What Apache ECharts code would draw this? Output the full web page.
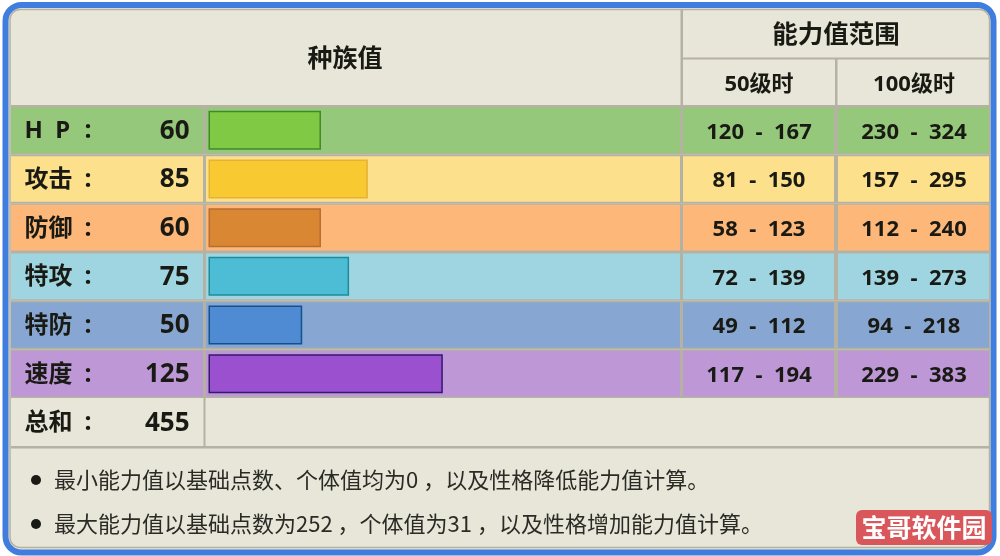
<!DOCTYPE html>
<html>
<head>
<meta charset="utf-8">
<style>
  html, body { margin: 0; padding: 0; background: #fff; }
  #chart { width: 1000px; height: 556px; }
</style>
<script src="https://cdn.jsdelivr.net/npm/echarts@6/dist/echarts.min.js"></script>
</head>
<body>
<div id="chart"></div>
<script>
// 数据
const categories = ["H  P", "攻击", "防御", "特攻", "特防", "速度", "总和"];
const baseStats = [60, 85, 60, 75, 50, 125, null];
const statLabels = ["60", "85", "60", "75", "50", "125", "455"];
const level50 = ["120  -  167", "81  -  150", "58  -  123", "72  -  139", "49  -  112", "117  -  194"];
const level100 = ["230  -  324", "157  -  295", "112  -  240", "139  -  273", "94  -  218", "229  -  383"];
const rowColors = ["#95c87a", "#fde08c", "#fdb778", "#9fd5e1", "#87a7d2", "#bd97d6"];
const barColors = ["#80c945", "#f8c930", "#d98733", "#4dbdd6", "#4e8bd2", "#9b50d0"];
const barBorders = ["#3d8a28", "#e3b236", "#b96c30", "#1f8a9c", "#12508f", "#33196e"];
const notes = [
  "最小能力值以基础点数、个体值均为0 ，以及性格降低能力值计算。",
  "最大能力值以基础点数为252 ，个体值为31 ，以及性格增加能力值计算。"
];

const fontBold = '"Noto Sans", "Noto Sans CJK SC", sans-serif';
const fontCjk = '"Noto Sans CJK SC", sans-serif';
const lineColor = "#b5b2a3";
const cellColor = "#e8e6d9";
const rowTop = 106;
const rowH = 48.67;

function rect(x, y, w, h, fill, z) {
  return { type: "rect", silent: true, z: z || 1, shape: { x, y, width: w, height: h }, style: { fill } };
}

function text(str, x, y, size, opts) {
  opts = opts || {};
  return {
    type: "text", silent: true, z: opts.z || 10, x, y,
    style: {
      text: str,
      fill: opts.fill || "#1a1a14",
      font: (opts.weight || "bold") + " " + size + "px " + (opts.family || fontBold),
      textAlign: opts.align || "center",
      textVerticalAlign: "middle"
    }
  };
}

const graphics = [
  // 外框
  { type: "rect", silent: true, z: 0, shape: { x: 5.5, y: 5, width: 988, height: 547.5, r: 16 },
    style: { fill: cellColor, stroke: "#3f7ede", lineWidth: 6 } },
  { type: "rect", silent: true, z: 0, shape: { x: 10, y: 9.5, width: 979.5, height: 538, r: 10 },
    style: { fill: cellColor, stroke: lineColor, lineWidth: 1.5 } },
  // 表头分隔线
  rect(680.5, 10, 2.5, 96, lineColor),
  rect(681, 57.5, 309, 2, lineColor),
  rect(835, 58, 2.5, 48, lineColor),
  rect(11, 105, 979, 2, lineColor),
  // 总和行
  rect(203.5, 398, 2, 50, lineColor),
  rect(11, 446, 979, 2.5, lineColor),
  text("种族值", 345, 57, 25, { family: fontCjk }),
  text("能力值范围", 836, 33, 25.5, { family: fontCjk }),
  text("50级时", 759, 85, 22),
  text("100级时", 914, 85, 22),
  // 水印
  { type: "rect", silent: true, z: 12, shape: { x: 856, y: 510, width: 136, height: 35, r: 6 }, style: { fill: "#d9575b" } },
  text("宝哥软件园", 924, 527, 25, { fill: "#fff", family: fontCjk, z: 13 })
];

rowColors.forEach((color, i) => {
  const y = rowTop + i * rowH;
  graphics.push(rect(11, y, 979, rowH, lineColor, 1));
  [[11, 192], [206, 474], [683, 151], [838, 151]].forEach(c => {
    graphics.push(rect(c[0], y + 1.5, c[1], rowH - 3, color, 2));
  });
  graphics.push(text(level50[i], 759, y + rowH / 2 + 2, 22));
  graphics.push(text(level100[i], 914, y + rowH / 2 + 2, 22));
});

notes.forEach((note, i) => {
  const y = 480 + i * 44;
  graphics.push({ type: "circle", silent: true, z: 10, shape: { cx: 36, cy: y, r: 5 }, style: { fill: "#1a1a14" } });
  graphics.push(text(note, 54, y, 22, { weight: "normal", family: fontCjk, align: "left", fill: "#2b2b26" }));
});

const option = {
  animation: false,
  backgroundColor: "#fff",
  graphic: { elements: graphics },
  grid: { left: 208.5, top: rowTop, width: 478, height: rowH * categories.length },
  xAxis: { type: "value", min: 0, max: 255, show: false },
  yAxis: {
    type: "category",
    inverse: true,
    data: categories,
    z: 8,
    axisLine: { show: false },
    axisTick: { show: false },
    axisLabel: {
      align: "left",
      margin: 184,
      formatter: (name, i) => "{name|" + name + "}{colon|:}{stat|" + statLabels[i] + "}",
      rich: {
        name: { width: 60, padding: [2, 0, 0, 0], fontSize: 24, fontWeight: "bold", fontFamily: fontBold, color: "#1a1a14" },
        colon: { width: 18, padding: [2, 0, 0, 0], fontSize: 25, fontWeight: "bold", fontFamily: fontBold, color: "#1a1a14" },
        stat: { width: 87, padding: [2, 0, 0, 0], align: "right", fontSize: 26, fontWeight: "bold", fontFamily: fontBold, color: "#1a1a14" }
      }
    }
  },
  series: [{
    type: "bar",
    z: 8,
    barWidth: 39,
    data: baseStats.map((v, i) => ({
      value: v,
      itemStyle: { color: barColors[i], borderColor: barBorders[i], borderWidth: 1.5 }
    }))
  }]
};

const myChart = echarts.init(document.getElementById("chart"));
myChart.setOption(option);
</script>
</body>
</html>
